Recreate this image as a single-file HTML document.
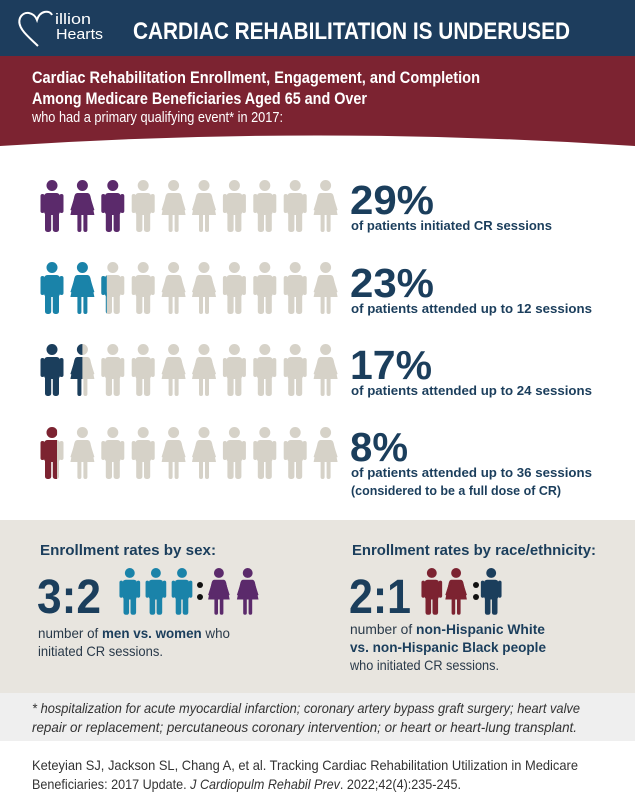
<!DOCTYPE html>
<html><head><meta charset="utf-8"><style>
html,body{margin:0;padding:0;background:#fff}
svg{display:block}
text{font-family:"Liberation Sans",sans-serif}
</style></head><body>
<svg width="635" height="807" viewBox="0 0 635 807" xmlns="http://www.w3.org/2000/svg">
<defs>
<g id="m">
<circle cx="12" cy="5.5" r="5.5"/>
<rect x="4" y="13" width="16" height="22" rx="3.5"/>
<rect x="0.5" y="14" width="4" height="19" rx="2"/>
<rect x="19.5" y="14" width="4" height="19" rx="2"/>
<rect x="5" y="30" width="6.2" height="22" rx="2.5"/>
<rect x="12.8" y="30" width="6.2" height="22" rx="2.5"/>
</g>
<g id="f">
<circle cx="12" cy="5.5" r="5.5"/>
<path d="M7 13 H17 Q19 13 20 16 L24 35 H0 L4 16 Q5 13 7 13Z"/>
<path d="M5 14 L0 30 L2.5 31 L7 17Z"/>
<path d="M19 14 L24 30 L21.5 31 L17 17Z"/>
<rect x="7" y="32" width="4" height="20" rx="2"/>
<rect x="13" y="32" width="4" height="20" rx="2"/>
</g>
<clipPath id="c25"><rect x="0" y="0" width="6" height="60"/></clipPath>
<clipPath id="c50"><rect x="0" y="0" width="12" height="60"/></clipPath>
<clipPath id="c75"><rect x="0" y="0" width="17" height="60"/></clipPath>
</defs>

<!-- header -->
<rect x="0" y="0" width="635" height="56" fill="#1d3d5d"/>
<rect x="0" y="56" width="635" height="100" fill="#7c2331"/>
<path d="M0 146 Q317 125 635 146 V160 H0Z" fill="#fff"/>
<path d="M38 46 C30 38 16 28 20 18 C24 10 34 12 37 20 C40 10 50 10 52 15" fill="none" stroke="#fff" stroke-width="2"/>
<text x="55" y="24" font-size="15" fill="#fff" textLength="36" lengthAdjust="spacingAndGlyphs">illion</text>
<text x="56" y="39" font-size="15" fill="#fff" textLength="47" lengthAdjust="spacingAndGlyphs">Hearts</text>
<text x="133" y="39" font-size="24" font-weight="bold" fill="#fff" textLength="437" lengthAdjust="spacingAndGlyphs">CARDIAC REHABILITATION IS UNDERUSED</text>
<text x="32" y="83" font-size="17" font-weight="bold" fill="#fff" textLength="448" lengthAdjust="spacingAndGlyphs">Cardiac Rehabilitation Enrollment, Engagement, and Completion</text>
<text x="32" y="104" font-size="17" font-weight="bold" fill="#fff" textLength="335" lengthAdjust="spacingAndGlyphs">Among Medicare Beneficiaries Aged 65 and Over</text>
<text x="32" y="122" font-size="15" fill="#fff" textLength="251" lengthAdjust="spacingAndGlyphs">who had a primary qualifying event* in 2017:</text>

<!-- rows -->
<g id="rows"></g>
<g fill="#d6d2c8">
<!-- row tops: 180, 262, 344, 427 -->
</g>

<!-- Row 1 -->
<g transform="translate(40,180)">
<use href="#m" x="0" fill="#5b2a6b"/><use href="#f" x="30.4" fill="#5b2a6b"/><use href="#m" x="60.8" fill="#5b2a6b"/>
<use href="#m" x="91.2" fill="#d6d2c8"/><use href="#f" x="121.6" fill="#d6d2c8"/><use href="#f" x="152" fill="#d6d2c8"/>
<use href="#m" x="182.4" fill="#d6d2c8"/><use href="#m" x="212.8" fill="#d6d2c8"/><use href="#m" x="243.2" fill="#d6d2c8"/><use href="#f" x="273.6" fill="#d6d2c8"/>
</g>
<!-- Row 2 -->
<g transform="translate(40,262)">
<use href="#m" x="0" fill="#1a83a9"/><use href="#f" x="30.4" fill="#1a83a9"/>
<use href="#m" x="60.8" fill="#d6d2c8"/>
<g transform="translate(60.8,0)"><use href="#m" fill="#1a83a9" clip-path="url(#c25)"/></g>
<use href="#m" x="91.2" fill="#d6d2c8"/><use href="#f" x="121.6" fill="#d6d2c8"/><use href="#f" x="152" fill="#d6d2c8"/>
<use href="#m" x="182.4" fill="#d6d2c8"/><use href="#m" x="212.8" fill="#d6d2c8"/><use href="#m" x="243.2" fill="#d6d2c8"/><use href="#f" x="273.6" fill="#d6d2c8"/>
</g>
<!-- Row 3 -->
<g transform="translate(40,344)">
<use href="#m" x="0" fill="#1b3e5c"/>
<use href="#f" x="30.4" fill="#d6d2c8"/>
<g transform="translate(30.4,0)"><use href="#f" fill="#1b3e5c" clip-path="url(#c50)"/></g>
<use href="#m" x="60.8" fill="#d6d2c8"/>
<use href="#m" x="91.2" fill="#d6d2c8"/><use href="#f" x="121.6" fill="#d6d2c8"/><use href="#f" x="152" fill="#d6d2c8"/>
<use href="#m" x="182.4" fill="#d6d2c8"/><use href="#m" x="212.8" fill="#d6d2c8"/><use href="#m" x="243.2" fill="#d6d2c8"/><use href="#f" x="273.6" fill="#d6d2c8"/>
</g>
<!-- Row 4 -->
<g transform="translate(40,427)">
<use href="#m" x="0" fill="#d6d2c8"/>
<use href="#m" x="0" fill="#7c2331" clip-path="url(#c75)"/>
<use href="#f" x="30.4" fill="#d6d2c8"/><use href="#m" x="60.8" fill="#d6d2c8"/>
<use href="#m" x="91.2" fill="#d6d2c8"/><use href="#f" x="121.6" fill="#d6d2c8"/><use href="#f" x="152" fill="#d6d2c8"/>
<use href="#m" x="182.4" fill="#d6d2c8"/><use href="#m" x="212.8" fill="#d6d2c8"/><use href="#m" x="243.2" fill="#d6d2c8"/><use href="#f" x="273.6" fill="#d6d2c8"/>
</g>

<g fill="#1b3e5c" font-weight="bold">
<text x="350" y="214" font-size="41" textLength="84" lengthAdjust="spacingAndGlyphs">29%</text>
<text x="351" y="230" font-size="13" textLength="201" lengthAdjust="spacingAndGlyphs">of patients initiated CR sessions</text>
<text x="350" y="297" font-size="41" textLength="84" lengthAdjust="spacingAndGlyphs">23%</text>
<text x="351" y="313" font-size="13" textLength="241" lengthAdjust="spacingAndGlyphs">of patients attended up to 12 sessions</text>
<text x="350" y="379" font-size="41" textLength="82" lengthAdjust="spacingAndGlyphs">17%</text>
<text x="351" y="395" font-size="13" textLength="241" lengthAdjust="spacingAndGlyphs">of patients attended up to 24 sessions</text>
<text x="350" y="461" font-size="41" textLength="58" lengthAdjust="spacingAndGlyphs">8%</text>
<text x="351" y="477" font-size="13" textLength="241" lengthAdjust="spacingAndGlyphs">of patients attended up to 36 sessions</text>
<text x="351" y="495" font-size="13" textLength="210" lengthAdjust="spacingAndGlyphs">(considered to be a full dose of CR)</text>
</g>

<!-- bottom box -->
<rect x="0" y="520" width="635" height="173" fill="#e8e5df"/>
<g fill="#1b3e5c" font-weight="bold">
<text x="40" y="555" font-size="15" textLength="176" lengthAdjust="spacingAndGlyphs">Enrollment rates by sex:</text>
<text x="352" y="555" font-size="15" textLength="244" lengthAdjust="spacingAndGlyphs">Enrollment rates by race/ethnicity:</text>
<text x="37" y="613" font-size="48" textLength="64" lengthAdjust="spacingAndGlyphs">3:2</text>
<text x="349" y="613" font-size="48" textLength="62" lengthAdjust="spacingAndGlyphs">2:1</text>
</g>
<g transform="translate(119,568) scale(0.9)" >
<use href="#m" x="0" fill="#1a83a9"/><use href="#m" x="29" fill="#1a83a9"/><use href="#m" x="58" fill="#1a83a9"/>
<use href="#f" x="99" fill="#5b2a6b"/><use href="#f" x="131" fill="#5b2a6b"/>
</g>
<circle cx="200" cy="585" r="3" fill="#111"/><circle cx="200" cy="597" r="3" fill="#111"/>
<g transform="translate(421,568) scale(0.9)">
<use href="#m" x="0" fill="#7c2331"/><use href="#f" x="27" fill="#7c2331"/>
<use href="#m" x="66" fill="#1b3e5c"/>
</g>
<circle cx="476" cy="585" r="3" fill="#111"/><circle cx="476" cy="597" r="3" fill="#111"/>
<g font-size="14" fill="#2a3a4a">
<text x="38" y="638" textLength="192" lengthAdjust="spacingAndGlyphs">number of <tspan font-weight="bold" fill="#1b3e5c">men vs. women</tspan> who</text>
<text x="38" y="656" textLength="125" lengthAdjust="spacingAndGlyphs">initiated CR sessions.</text>
<text x="350" y="634" textLength="195" lengthAdjust="spacingAndGlyphs">number of <tspan font-weight="bold" fill="#1b3e5c">non-Hispanic White</tspan></text>
<text x="350" y="652" textLength="196" lengthAdjust="spacingAndGlyphs" font-weight="bold" fill="#1b3e5c">vs. non-Hispanic Black people</text>
<text x="350" y="670" textLength="149" lengthAdjust="spacingAndGlyphs">who initiated CR sessions.</text>
</g>

<!-- footnote -->
<rect x="0" y="693" width="635" height="48" fill="#efefef"/>
<g font-size="14" font-style="italic" fill="#333">
<text x="32" y="713" textLength="548" lengthAdjust="spacingAndGlyphs">* hospitalization for acute myocardial infarction; coronary artery bypass graft surgery; heart valve</text>
<text x="32" y="732" textLength="545" lengthAdjust="spacingAndGlyphs">repair or replacement; percutaneous coronary intervention; or heart or heart-lung transplant.</text>
</g>
<g font-size="14" fill="#333">
<text x="32" y="770" textLength="546" lengthAdjust="spacingAndGlyphs">Keteyian SJ, Jackson SL, Chang A, et al. Tracking Cardiac Rehabilitation Utilization in Medicare</text>
<text x="32" y="789" textLength="429" lengthAdjust="spacingAndGlyphs">Beneficiaries: 2017 Update. <tspan font-style="italic">J Cardiopulm Rehabil Prev</tspan>. 2022;42(4):235-245.</text>
</g>
</svg>
</body></html>
